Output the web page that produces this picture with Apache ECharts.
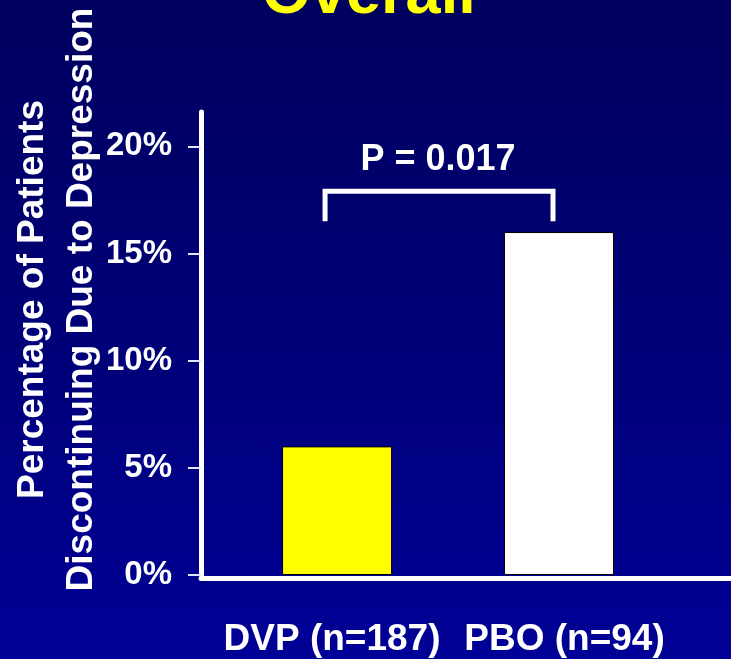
<!DOCTYPE html>
<html>
<head>
<meta charset="utf-8">
<script src="https://cdn.jsdelivr.net/npm/echarts@6/dist/echarts.min.js"></script>
<style>
  html, body { margin: 0; padding: 0; }
  #chart {
    width: 731px; height: 659px;
    background: linear-gradient(to bottom, #00005e 0%, #00007a 55%, #000096 100%);
  }
</style>
</head>
<body>
<div id="chart"></div>
<script>
// Treatment groups, placed at x = 1 and x = 2 on the value axis
const groups = ['DVP (n=187)', 'PBO (n=94)'];
const groupX = [1, 2];
// Percentage of patients discontinuing due to depression
const discontinued = [6, 16];
const barColors = ['#ffff00', '#ffffff'];
// Y axis ticks (percent)
const yTicks = [0, 5, 10, 15, 20];
// Significance bracket between the two groups
const bracketX = [0.946, 1.973];
const bracketBase = 16.5;
const bracketTop = 17.9;
const pLabel = 'P = 0.017';
const pLabelAt = [1.455, 19.35];

const FONT = '"Liberation Sans", Arial, sans-serif';
const chart = echarts.init(document.getElementById('chart'), null, { renderer: 'canvas' });

chart.setOption({
  backgroundColor: 'transparent',
  animation: false,
  title: {
    text: 'Overall',
    left: 262,
    top: -36,
    padding: 0,
    textStyle: { color: '#ffff00', fontSize: 63, fontWeight: 'bold', fontFamily: FONT }
  },
  grid: {
    left: 201, right: 0, top: 112, bottom: 84,
    containLabel: false,
    outerBoundsMode: 'none'
  },
  xAxis: {
    type: 'value',
    min: 0.387,
    max: 2.775,
    offset: 3,
    splitLine: { show: false },
    axisTick: { show: false },
    axisLine: { show: true, onZero: false, lineStyle: { color: '#ffffff', width: 5 } },
    axisLabel: {
      customValues: groupX,
      margin: 43,
      color: '#ffffff',
      fontSize: 37,
      fontWeight: 'bold',
      fontFamily: FONT,
      formatter: function (v) {
        const i = groupX.indexOf(v);
        return i === 0 ? '{a|' + groups[0] + '}' : '{b|' + groups[1] + '}';
      },
      rich: {
        a: { color: '#ffffff', fontSize: 37, fontWeight: 'bold', fontFamily: FONT, padding: [0, 10, 0, 0] },
        b: { color: '#ffffff', fontSize: 37, fontWeight: 'bold', fontFamily: FONT, padding: [0, 0, 0, 11] }
      }
    }
  },
  yAxis: {
    type: 'value',
    min: 0,
    max: 21.6,
    interval: 5,
    splitLine: { show: false },
    axisLine: { show: true, lineStyle: { color: '#ffffff', width: 5 } },
    axisTick: { show: true, customValues: yTicks, length: 13, lineStyle: { color: '#e4e4ff', width: 2 } },
    axisLabel: {
      customValues: yTicks,
      margin: 29,
      color: '#ffffff',
      fontSize: 33,
      fontWeight: 'bold',
      fontFamily: FONT,
      formatter: function (v) { return v + '%'; }
    },
    name: 'Percentage of Patients\nDiscontinuing Due to Depression',
    nameLocation: 'middle',
    nameGap: 95,
    nameMoveOverlap: false,
    nameTextStyle: {
      color: '#ffffff', fontSize: 37, fontWeight: 'bold', fontFamily: FONT,
      lineHeight: 49, padding: [0, 0, 0, 88]
    }
  },
  series: [
    {
      type: 'bar',
      barWidth: 110,
      data: groupX.map((x, i) => ({
        value: [x, discontinued[i]],
        itemStyle: { color: barColors[i], borderColor: '#000000', borderWidth: 1 }
      }))
    },
    {
      type: 'line',
      symbol: 'none',
      silent: true,
      lineStyle: { color: '#ffffff', width: 5, join: 'miter', cap: 'butt' },
      data: [
        [bracketX[0], bracketBase],
        [bracketX[0], bracketTop],
        [bracketX[1], bracketTop],
        [bracketX[1], bracketBase]
      ]
    },
    {
      type: 'scatter',
      symbolSize: 0,
      silent: true,
      itemStyle: { opacity: 1 },
      data: [pLabelAt],
      label: {
        show: true,
        position: 'inside',
        formatter: pLabel,
        color: '#ffffff',
        opacity: 1,
        fontSize: 36,
        fontWeight: 'bold',
        fontFamily: FONT
      }
    }
  ]
});
</script>
</body>
</html>
